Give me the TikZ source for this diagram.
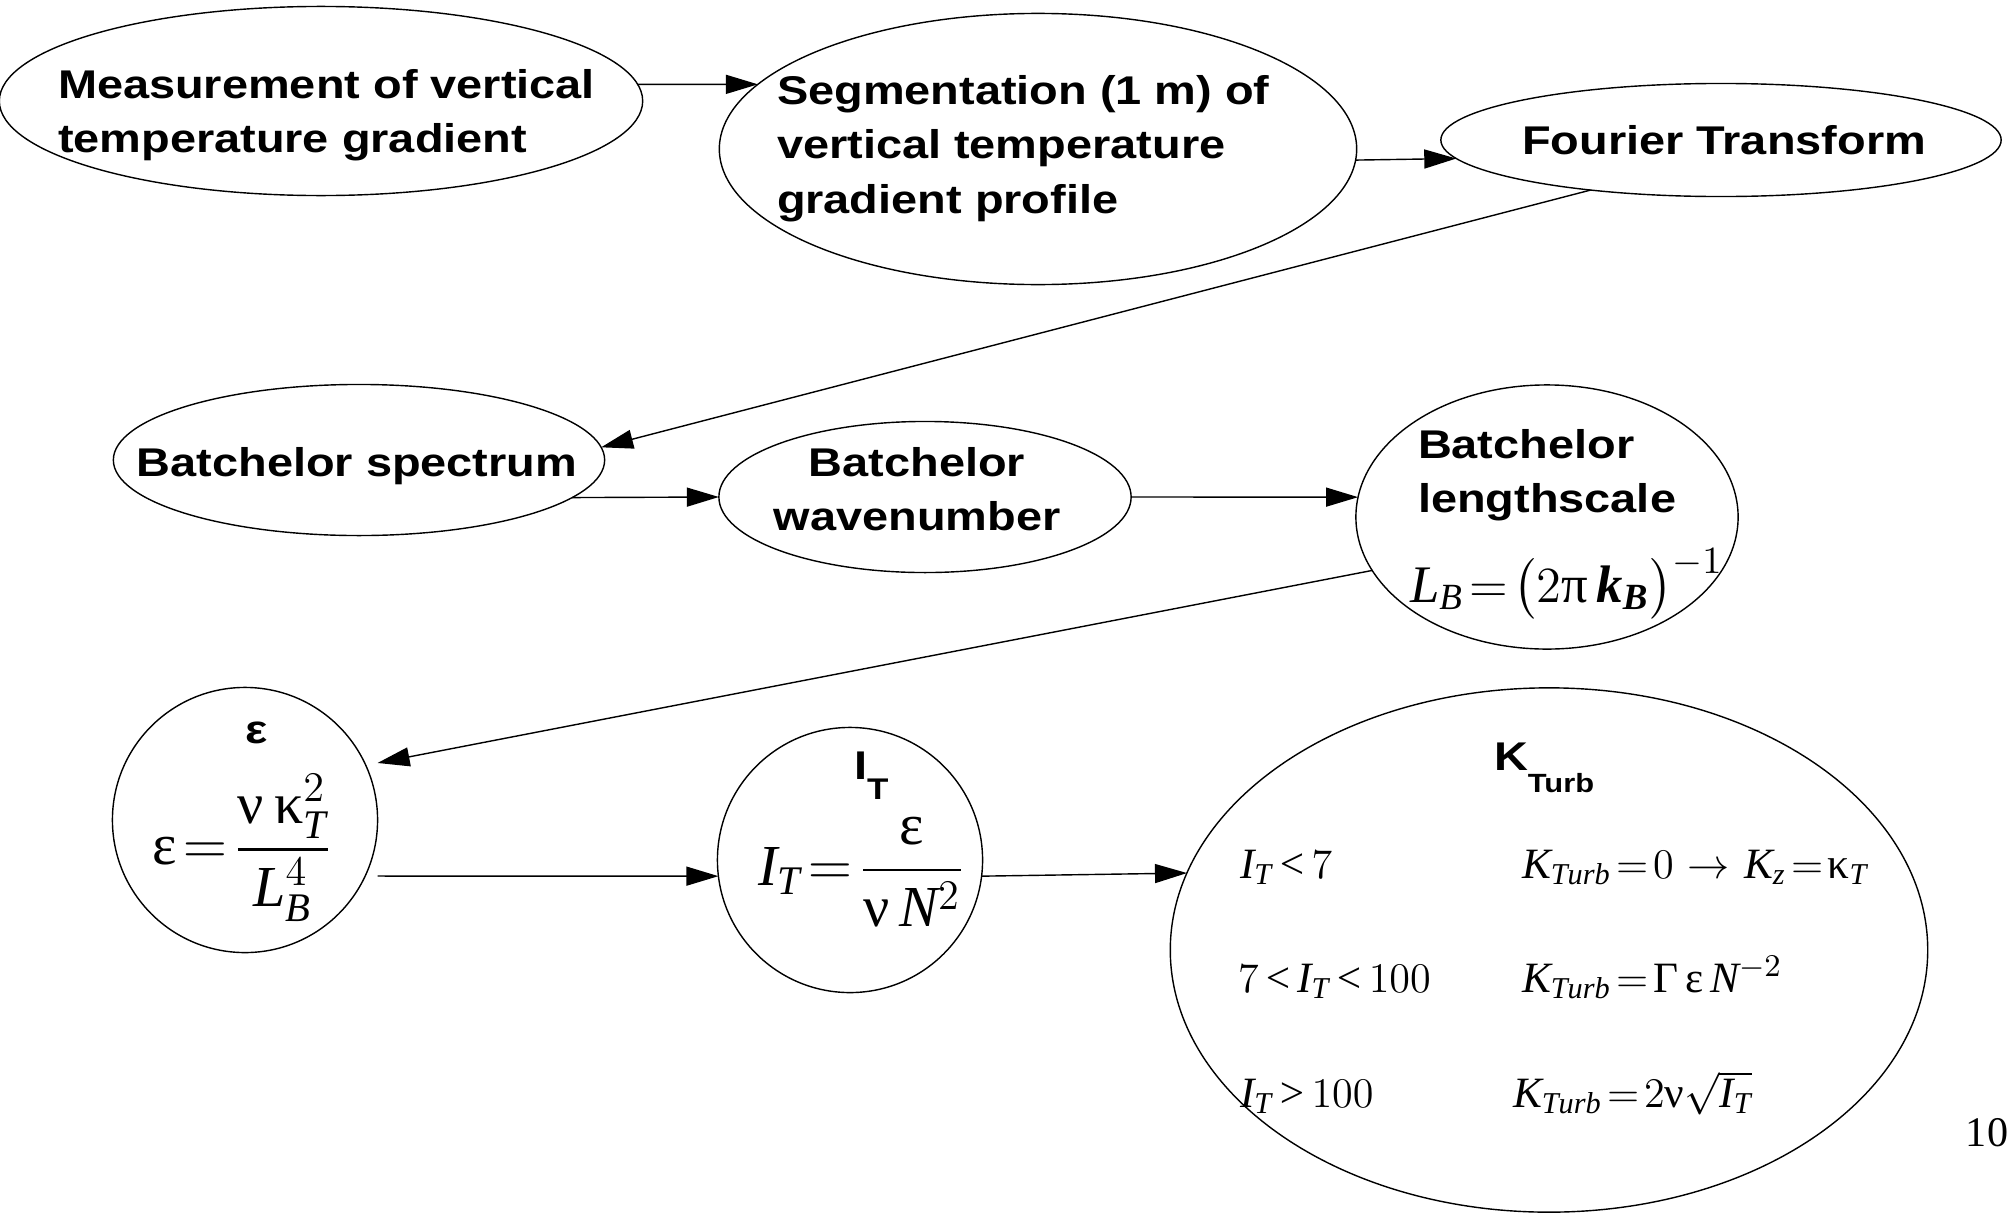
\documentclass[tikz,border=0pt]{standalone}
\usepackage{amsmath}
\usepackage{fontspec}
\setmainfont{Liberation Serif}
\setsansfont{Liberation Sans}[FakeStretch=1.17]
\DeclareSymbolFont{letters}{TU}{\rmdefault}{m}{it}
\usepackage{tikz}
\usetikzlibrary{arrows.meta,shapes.geometric}

\newcommand{\gk}[1]{\textrm{\upshape #1}}
\newcommand{\bk}[1]{\textrm{\bfseries\itshape #1}}
\thickmuskip=2mu\relax

\begin{document}
\begin{tikzpicture}[
    x=0.01cm, y=-0.01cm,
    every node/.style={inner sep=0pt, outer sep=0pt},
    oval/.style={ellipse, draw, line width=0.4pt},
    txt/.style={font=\sffamily\bfseries\fontsize{11.4}{15.5}\selectfont},
    eq/.style={font=\fontsize{16.5}{18}\selectfont},
    cond/.style={font=\fontsize{12.3}{14}\selectfont, anchor=base west},
    arrow/.style={line width=0.4pt, -{Triangle[length=0.32cm, width=0.19cm]}}
  ]
    \useasboundingbox (0,0) rectangle (2012,1215);

    % Top row
    \node[oval, minimum width=6.43cm, minimum height=1.89cm] (meas) at (321,101) {};
    \node[oval, minimum width=6.37cm, minimum height=2.71cm] (seg) at (1038,149) {};
    \node[oval, minimum width=5.60cm, minimum height=1.13cm] (fourier) at (1721,140) {};
    \node[txt, align=left, anchor=north west] (meas-t) at (58,69) {Measurement of vertical\\temperature gradient};
    \node[txt, align=left, anchor=north west] (seg-t) at (777,75) {Segmentation (1 m) of\\vertical temperature\\gradient profile};
    \node[txt, anchor=base] (fourier-t) at (1724,154) {Fourier Transform};

    % Middle row
    \node[oval, minimum width=4.91cm, minimum height=1.51cm] (spec) at (359,460) {};
    \node[oval, minimum width=4.12cm, minimum height=1.51cm] (wave) at (925,497) {};
    \node[oval, minimum width=3.82cm, minimum height=2.64cm] (lscale) at (1547,517) {};
    \node[txt, anchor=base] (spec-t) at (357,476) {Batchelor spectrum};
    \node[txt, align=center, anchor=north] (wave-t) at (917,447) {Batchelor\\wavenumber};
    \node[txt, align=left, anchor=north west] (lscale-t) at (1418,429) {Batchelor\\lengthscale};
    \node[font=\fontsize{15}{16}\selectfont, anchor=base west] (lscale-eq) at (1410,602) {$L_B=\bigl(2\gk{π}\,\bk{k}_{\bk{B}}\bigr)^{-1}$};

    % Bottom row
    \node[oval, minimum size=2.65cm] (eps) at (245,820) {};
    \node[oval, minimum size=2.65cm] (it) at (850,860) {};
    \node[oval, minimum width=7.57cm, minimum height=5.24cm] (kturb) at (1549,950) {};
    \node[txt, anchor=base] (eps-t) at (257,743) {ε};
    \node[eq, anchor=west] (eps-eq) at (152,848) {$\gk{ε}=\dfrac{\gk{ν}\,\gk{κ}_T^2}{L_B^4}$};
    \node[txt, anchor=base west] (it-t) at (854,779) {I\raisebox{-0.2cm}{\fontsize{8.5}{9}\selectfont T}};
    \node[eq, anchor=west] (it-eq) at (758,872) {$I_T=\dfrac{\gk{ε}}{\gk{ν}\,N^2}$};
    \node[txt, anchor=base west] (kturb-t) at (1494,770) {K\raisebox{-0.22cm}{\fontsize{7.5}{8}\selectfont Turb}};

    % Regimes
    \node[cond] (low) at (1240,878) {$I_T<7$};
    \node[cond] (mid) at (1238,992) {$7<I_T<100$};
    \node[cond] (high) at (1240,1107) {$I_T>100$};
    \node[cond] (low-k) at (1522,878) {$K_{Turb}=0\;\;\rightarrow\;\;K_z=\gk{κ}_T$};
    \node[cond] (mid-k) at (1522,992) {$K_{Turb}=\gk{Γ}\,\gk{ε}\,N^{-2}$};
    \node[cond] (high-k) at (1513,1107) {$K_{Turb}=2\gk{ν}\sqrt{I_T}$};

    \node[font=\fontsize{12}{14}\selectfont, anchor=base] (page) at (1987,1146) {10};

    % Connections
    \draw[arrow] (meas.3) -- (seg.167);
    \draw[arrow] (seg.-2) -- (fourier.184);
    \draw[arrow] (fourier.201) -- (spec.3);
    \draw[arrow] (spec.-10) -- (wave.west);
    \draw[arrow] (wave.east) -- (lscale.174);
    \draw[arrow] (lscale.197) -- ([yshift=0.57cm]eps.east);
    \draw[arrow] ([yshift=-0.56cm]eps.east) -- (it.187);
    \draw[arrow] (it.-7) -- (kturb.168.5);

  \end{tikzpicture}
\end{document}
